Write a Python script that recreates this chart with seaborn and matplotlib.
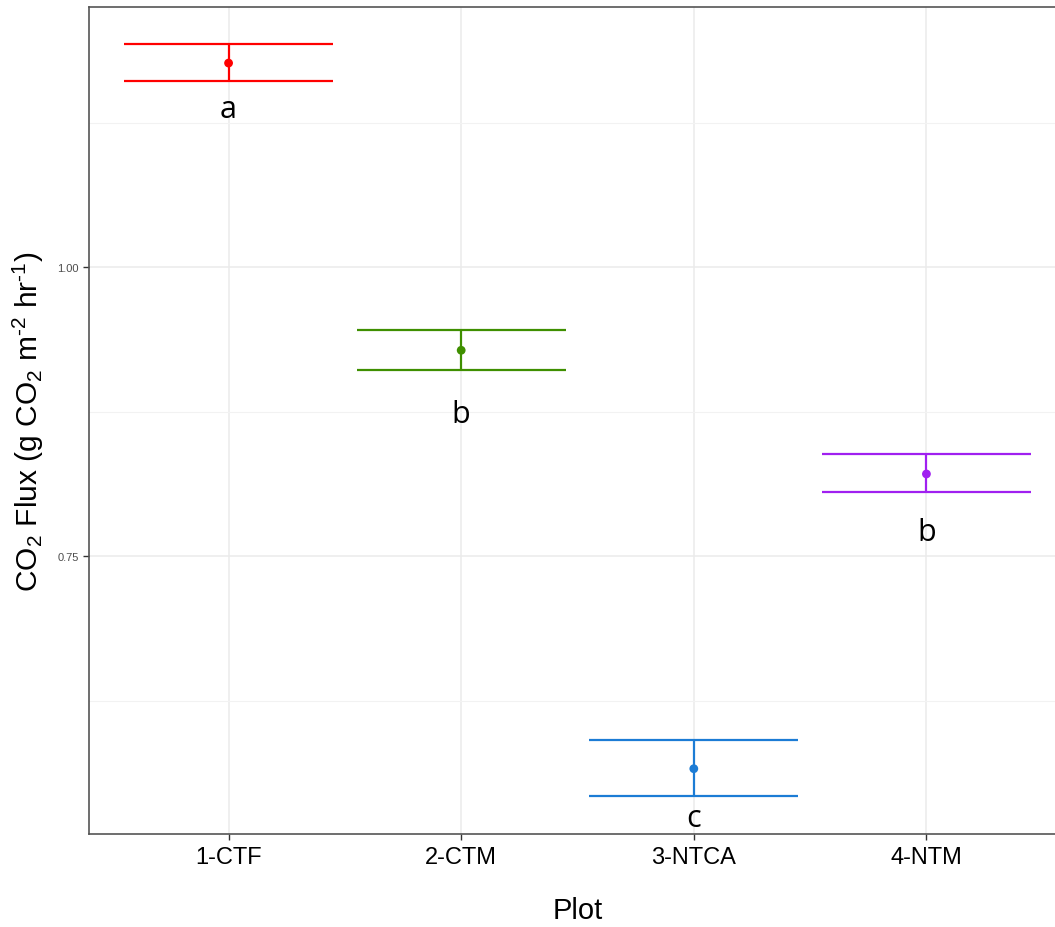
import matplotlib
matplotlib.use("Agg")
import matplotlib.pyplot as plt
import seaborn as sns
import pandas as pd
from matplotlib.ticker import MultipleLocator

# data
plots = ["1-CTF", "2-CTM", "3-NTCA", "4-NTM"]
flux_mean = [1.1765, 0.928, 0.566, 0.821]
flux_low = [1.161, 0.911, 0.5425, 0.805]
flux_high = [1.193, 0.9455, 0.591, 0.838]
letters = ["a", "b", "c", "b"]
letter_y = [1.130, 0.866, 0.516, 0.764]
colors = ["#FF0000", "#3F8F00", "#1C7CD5", "#A020F0"]

df = pd.DataFrame({"Plot": plots, "Flux": flux_mean,
                   "Low": flux_low, "High": flux_high})
df["x"] = range(len(plots))

sns.set_theme(style="white")
plt.rcParams["font.family"] = ["Liberation Sans", "DejaVu Sans"]
plt.rcParams["mathtext.fontset"] = "custom"
plt.rcParams["mathtext.rm"] = "Liberation Sans"
plt.rcParams["mathtext.it"] = "Liberation Sans"

narrow = ["Liberation Sans Narrow", "Liberation Sans", "DejaVu Sans"]

W, H = 1055, 928
fig = plt.figure(figsize=(W / 100, H / 100), dpi=100)
ax = fig.add_axes([89 / W, (H - 835) / H, 977 / W, 827 / H])

# grid
ax.yaxis.set_major_locator(MultipleLocator(0.25))
ax.yaxis.set_minor_locator(MultipleLocator(0.125))
ax.grid(True, which="major", color="#EBEBEB", linewidth=1.1, zorder=0)
ax.grid(True, which="minor", axis="y", color="#F2F2F2", linewidth=0.8, zorder=0)
ax.set_axisbelow(True)

# error bars
for i, row in df.iterrows():
    c = colors[i]
    ax.vlines(row["x"], row["Low"], row["High"], color=c, linewidth=1.6, zorder=2)
    ax.hlines([row["Low"], row["High"]], row["x"] - 0.45, row["x"] + 0.45,
              color=c, linewidth=1.6, zorder=2)
    ax.text(row["x"], letter_y[i], letters[i], ha="center", va="baseline",
            fontsize=22, family=["Open Sans", "DejaVu Sans"], color="black")

sns.scatterplot(data=df, x="x", y="Flux", hue="Plot", palette=colors,
                s=40, edgecolor="none", legend=False, ax=ax, zorder=3)

ax.set_xlim(-0.6, 3.6)
ax.set_ylim(0.5095, 1.225)
ax.set_xticks(df["x"])
ax.set_xticklabels(plots, fontsize=17, color="black", family=narrow)
ax.set_yticks([0.75, 1.00])
ax.set_yticklabels(["0.75", "1.00"], fontsize=8, color="#4D4D4D")
ax.tick_params(axis="both", which="major", length=4, width=1, color="#333333",
               bottom=True, left=True)
ax.tick_params(axis="y", which="minor", length=0)
ax.tick_params(axis="x", pad=5)

for s in ax.spines.values():
    s.set_color("#555555")
    s.set_linewidth(1.2)

ax.set_xlabel("Plot", fontsize=21, labelpad=20, color="black", family=narrow)
ax.set_ylabel("CO$_2$ Flux (g CO$_2$ m$^{\u20102}$ hr$^{\u20101}$)",
              fontsize=21.5, labelpad=8, color="black")

fig.savefig("out.png", dpi=100)
